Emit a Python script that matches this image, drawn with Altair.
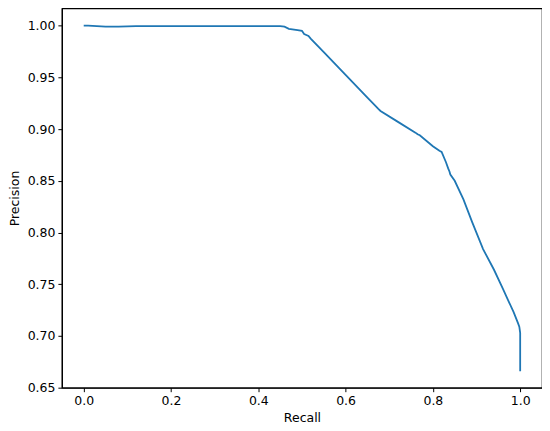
import altair as alt
import pandas as pd

recall = [0.0, 0.01, 0.03, 0.05, 0.08, 0.12, 0.2, 0.3, 0.4, 0.45, 0.46, 0.47, 0.49, 0.50,
          0.505, 0.51, 0.515, 0.52, 0.55, 0.6, 0.65, 0.675, 0.68, 0.72, 0.76, 0.765, 0.77,
          0.80, 0.81, 0.815, 0.82, 0.83, 0.835, 0.838, 0.84, 0.85, 0.87, 0.89, 0.915, 0.94,
          0.96, 0.973, 0.985, 0.995, 0.998, 1.0, 1.0]
precision = [1.0, 1.0, 0.9995, 0.999, 0.999, 0.9995, 0.9995, 0.9995, 0.9995, 0.9995, 0.999,
             0.997, 0.9958, 0.995, 0.992, 0.991, 0.990, 0.9875, 0.9744, 0.9524, 0.9305, 0.9195,
             0.9175, 0.907, 0.8966, 0.895, 0.894, 0.8835, 0.8805, 0.879, 0.878, 0.868, 0.862,
             0.859, 0.856, 0.850, 0.832, 0.810, 0.784, 0.764, 0.746, 0.734, 0.723, 0.7124,
             0.709, 0.703, 0.666]

df = pd.DataFrame({"Recall": recall, "Precision": precision, "idx": list(range(len(recall)))})

font = "DejaVu Sans"
chart = alt.Chart(df).mark_line(color="#1f77b4", strokeWidth=1.8, clip=True).encode(
    x=alt.X("Recall:Q", scale=alt.Scale(domain=[-0.05, 1.05], nice=False, zero=False),
            axis=alt.Axis(values=[0, 0.2, 0.4, 0.6, 0.8, 1.0], format=".1f", title="Recall")),
    y=alt.Y("Precision:Q", scale=alt.Scale(domain=[0.65, 1.0167], nice=False, zero=False),
            axis=alt.Axis(values=[0.65, 0.70, 0.75, 0.80, 0.85, 0.90, 0.95, 1.00], format=".2f",
                          title="Precision")),
    order="idx:Q",
).properties(
    width=481, height=380,
    autosize=alt.AutoSizeParams(type="none"),
    padding={"left": 54, "top": 0, "right": 0, "bottom": 45},
).configure_view(
    stroke="black", strokeWidth=1.2
).configure_axis(
    grid=False, domain=True, domainColor="black", domainWidth=1.2,
    tickColor="black", tickSize=4, tickWidth=1,
    labelFont=font, labelFontSize=12.5, labelColor="black", labelPadding=3,
    titleFont=font, titleFontSize=12.5, titleFontWeight="normal", titleColor="black",
).configure_axisY(titlePadding=6).configure_axisX(titlePadding=4)

chart.save("out.html", embed_options={"renderer": "svg", "actions": False})
